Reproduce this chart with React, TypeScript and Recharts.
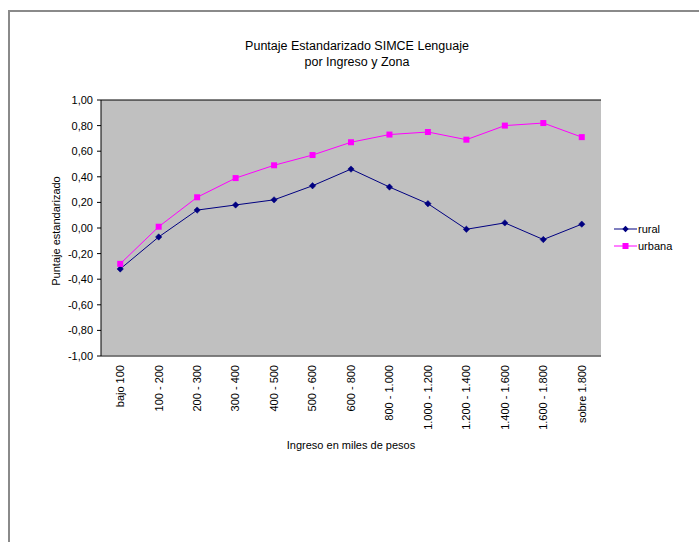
import React from "react";
import { LineChart, Line, XAxis, YAxis, CartesianGrid } from "recharts";

const categories = [
  "bajo 100",
  "100 - 200",
  "200 - 300",
  "300 - 400",
  "400 - 500",
  "500 - 600",
  "600 - 800",
  "800 - 1.000",
  "1.000 - 1.200",
  "1.200 - 1.400",
  "1.400 - 1.600",
  "1.600 - 1.800",
  "sobre 1.800",
];
const rural = [-0.32, -0.07, 0.14, 0.18, 0.22, 0.33, 0.46, 0.32, 0.19, -0.01, 0.04, -0.09, 0.03];
const urbana = [-0.28, 0.01, 0.24, 0.39, 0.49, 0.57, 0.67, 0.73, 0.75, 0.69, 0.8, 0.82, 0.71];
const yTicks = [-1, -0.8, -0.6, -0.4, -0.2, 0, 0.2, 0.4, 0.6, 0.8, 1];
const seriesNames = ["rural", "urbana"];
const seriesColors = ["#000080", "#FF00FF"];
const titleLines = ["Puntaje Estandarizado SIMCE Lenguaje", "por Ingreso y Zona"];
const xTitle = "Ingreso en miles de pesos";
const yTitle = "Puntaje estandarizado";

const data = categories.map((c, i) => ({ cat: c, rural: rural[i], urbana: urbana[i] }));

const FONT = "'Liberation Sans', Arial, sans-serif";

const fmt = (v: number) => v.toFixed(2).replace(".", ",");

const Diamond = (props: any) => {
  const { cx, cy } = props;
  if (cx == null || cy == null) return null;
  const r = 3.2;
  return (
    <polygon
      points={`${cx},${cy - r} ${cx + r},${cy} ${cx},${cy + r} ${cx - r},${cy}`}
      fill="#000080"
      stroke="#000080"
      strokeWidth={0.5}
    />
  );
};

const Square = (props: any) => {
  const { cx, cy } = props;
  if (cx == null || cy == null) return null;
  const s = 3;
  return <rect x={cx - s} y={cy - s} width={2 * s} height={2 * s} fill="#FF00FF" />;
};

const XTick = (props: any) => {
  const { x, y, payload } = props;
  return (
    <text
      x={x}
      y={y}
      transform={`rotate(-90, ${x}, ${y})`}
      textAnchor="end"
      dy="0.35em"
      fontSize={11}
      fontFamily={FONT}
      fill="#000"
    >
      {payload.value}
    </text>
  );
};

const PLOT_W = 500;
const HALF = PLOT_W / categories.length / 2;

export default function App() {
  return (
    <div style={{ position: "absolute", left: 0, top: 0, width: 699, height: 542, background: "#fff", overflow: "hidden" }}>
      <div
        style={{
          position: "absolute",
          left: 8,
          top: 10,
          width: 720,
          height: 560,
          borderLeft: "2px solid #8a8a8a",
          borderTop: "2px solid #8a8a8a",
          boxSizing: "border-box",
        }}
      />
      <div style={{ position: "absolute", left: 0, top: 0 }}>
        <LineChart
          width={699}
          height={542}
          data={data}
          margin={{ top: 100, right: 98, bottom: 96, left: 41 }}
        >
          <CartesianGrid vertical={false} stroke="#000" strokeOpacity={1} fill="#C0C0C0" fillOpacity={1} />
          <XAxis
            dataKey="cat"
            interval={0}
            tickLine={false}
            tickSize={0}
            tickMargin={9}
            height={90}
            padding={{ left: HALF, right: HALF }}
            axisLine={{ stroke: "#808080", strokeWidth: 1.5 }}
            tick={<XTick />}
          />
          <YAxis
            yAxisId="left"
            domain={[-1, 1]}
            ticks={yTicks}
            interval={0}
            width={60}
            tickSize={4}
            tickMargin={4}
            tickFormatter={fmt}
            axisLine={{ stroke: "#000" }}
            tickLine={{ stroke: "#000" }}
            tick={{ fontSize: 11, fontFamily: FONT, fill: "#000" }}
          />
          <YAxis
            yAxisId="right"
            orientation="right"
            domain={[-1, 1]}
            width={0}
            tick={false}
            tickLine={false}
            axisLine={{ stroke: "#808080", strokeWidth: 1.5 }}
          />
          <Line
            yAxisId="left"
            dataKey="rural"
            stroke="#000080"
            strokeWidth={1}
            dot={<Diamond />}
            activeDot={false}
            isAnimationActive={false}
          />
          <Line
            yAxisId="left"
            dataKey="urbana"
            stroke="#FF00FF"
            strokeWidth={1}
            dot={<Square />}
            activeDot={false}
            isAnimationActive={false}
          />
        </LineChart>
      </div>
      {titleLines.map((t, i) => (
        <div
          key={t}
          style={{
            position: "absolute",
            left: 0,
            width: 714,
            top: 39 + i * 16,
            textAlign: "center",
            fontFamily: FONT,
            fontSize: 12.5,
            lineHeight: "14px",
            color: "#000",
          }}
        >
          {t}
        </div>
      ))}
      <div
        style={{
          position: "absolute",
          left: 251,
          width: 200,
          top: 438,
          textAlign: "center",
          fontFamily: FONT,
          fontSize: 11,
          lineHeight: "14px",
          color: "#000",
        }}
      >
        {xTitle}
      </div>
      <div
        style={{
          position: "absolute",
          left: 56 - 100,
          top: 231 - 7,
          width: 200,
          textAlign: "center",
          fontFamily: FONT,
          fontSize: 11,
          lineHeight: "14px",
          color: "#000",
          transform: "rotate(-90deg)",
          transformOrigin: "100px 7px",
        }}
      >
        {yTitle}
      </div>
      <svg style={{ position: "absolute", left: 600, top: 215 }} width={99} height={45}>
        {seriesNames.map((n, i) => {
          const y = 14 + i * 17;
          return (
            <g key={n}>
              <line x1={14} x2={37} y1={y} y2={y} stroke={seriesColors[i]} strokeWidth={1} />
              {i === 0 ? (
                <polygon points={`25.5,${y - 3.2} 28.7,${y} 25.5,${y + 3.2} 22.3,${y}`} fill={seriesColors[i]} />
              ) : (
                <rect x={22.5} y={y - 3} width={6} height={6} fill={seriesColors[i]} />
              )}
              <text x={38} y={y} dy="0.35em" fontSize={11} fontFamily={FONT} fill="#000">
                {n}
              </text>
            </g>
          );
        })}
      </svg>
    </div>
  );
}
